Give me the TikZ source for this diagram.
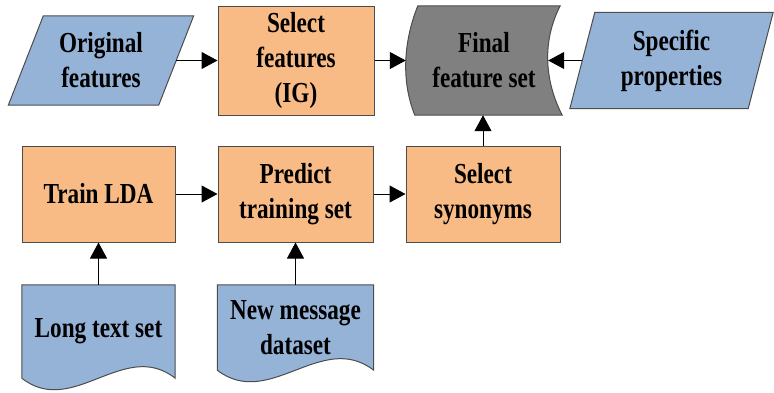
\documentclass[tikz,border=0pt]{standalone}
\usepackage{fontspec}
\setmainfont{Liberation Serif}[FakeStretch=0.8]
\usetikzlibrary{arrows.meta,backgrounds}
\definecolor{inblue}{RGB}{149,179,215}
\definecolor{procorange}{RGB}{249,187,134}
\definecolor{finalgray}{RGB}{128,128,128}

\begin{document}
\begin{tikzpicture}[x=1pt, y=-1pt,
  every node/.style={font=\fontsize{29}{35}\selectfont\bfseries, align=center, inner sep=0pt},
  proc/.style={draw=black!70, line width=1pt, fill=procorange, minimum height=96pt},
  outl/.style={draw=black!70, line width=1pt},
  arr/.style={-{Triangle[length=16pt,width=17pt]}, line width=1pt}]
\useasboundingbox (0,0) rectangle (774,392);
% top row
\node[minimum width=150pt, minimum height=89pt] (orig) at (101,60.5) {Original\\features};
\node[proc, minimum width=156pt, minimum height=109pt] (igsel) at (296,60.5) {Select\\features\\(IG)};
\node[minimum width=156pt, minimum height=109pt] (final) at (484,60.5) {Final\\feature set};
\node[minimum width=178pt, minimum height=96pt] (spec) at (671.5,60.5) {Specific\\properties};
% middle row
\node[proc, minimum width=153pt] (lda) at (98.5,194) {Train LDA};
\node[proc, minimum width=155pt] (pred) at (295.5,194) {Predict\\training set};
\node[proc, minimum width=154pt] (syn) at (483,194) {Select\\synonyms};
% documents
\node[minimum width=153pt, minimum height=93pt] (ltext) at (98.5,331.5) {Long text set};
\node[minimum width=156pt, minimum height=85pt] (nmsg) at (295.5,327.5) {New message\\dataset};

\begin{scope}[on background layer]
\draw[outl, fill=inblue] ([xshift=17.5pt]orig.north west) -- ([xshift=17.5pt]orig.north east)
  -- ([xshift=-17.5pt]orig.south east) -- ([xshift=-17.5pt]orig.south west) -- cycle;
\draw[outl, fill=inblue] ([xshift=12.5pt]spec.north west) -- ([xshift=12.5pt]spec.north east)
  -- ([xshift=-12.5pt]spec.south east) -- ([xshift=-12.5pt]spec.south west) -- cycle;
\draw[outl, fill=finalgray] ([xshift=12pt]final.north west) -- ([xshift=-2pt]final.north east)
  .. controls +(-18,35) and +(-18,-35) .. (final.south east)
  -- ([xshift=9pt]final.south west)
  .. controls +(-14,-35) and +(-14,35) .. ([xshift=12pt]final.north west) -- cycle;
\draw[outl, fill=inblue] (ltext.north west) -- (ltext.north east) -- (ltext.south east)
  .. controls +(-51,-40) and +(51,40) .. (ltext.south west) -- cycle;
\draw[outl, fill=inblue] (nmsg.north west) -- (nmsg.north east) -- (nmsg.south east)
  .. controls +(-52,-40) and +(52,40) .. (nmsg.south west) -- cycle;
\end{scope}

% connectors
\draw[arr] (orig) -- (igsel);
\draw[arr] (igsel) -- (final);
\draw[arr, shorten >=-14pt] (spec) -- (final);
\draw[arr] (lda) -- (pred);
\draw[arr] (pred) -- (syn);
\draw[arr] (syn.north) -- (syn.north |- final.south);
\draw[arr] (ltext) -- (lda);
\draw[arr] (nmsg) -- (pred);
\end{tikzpicture}
\end{document}
